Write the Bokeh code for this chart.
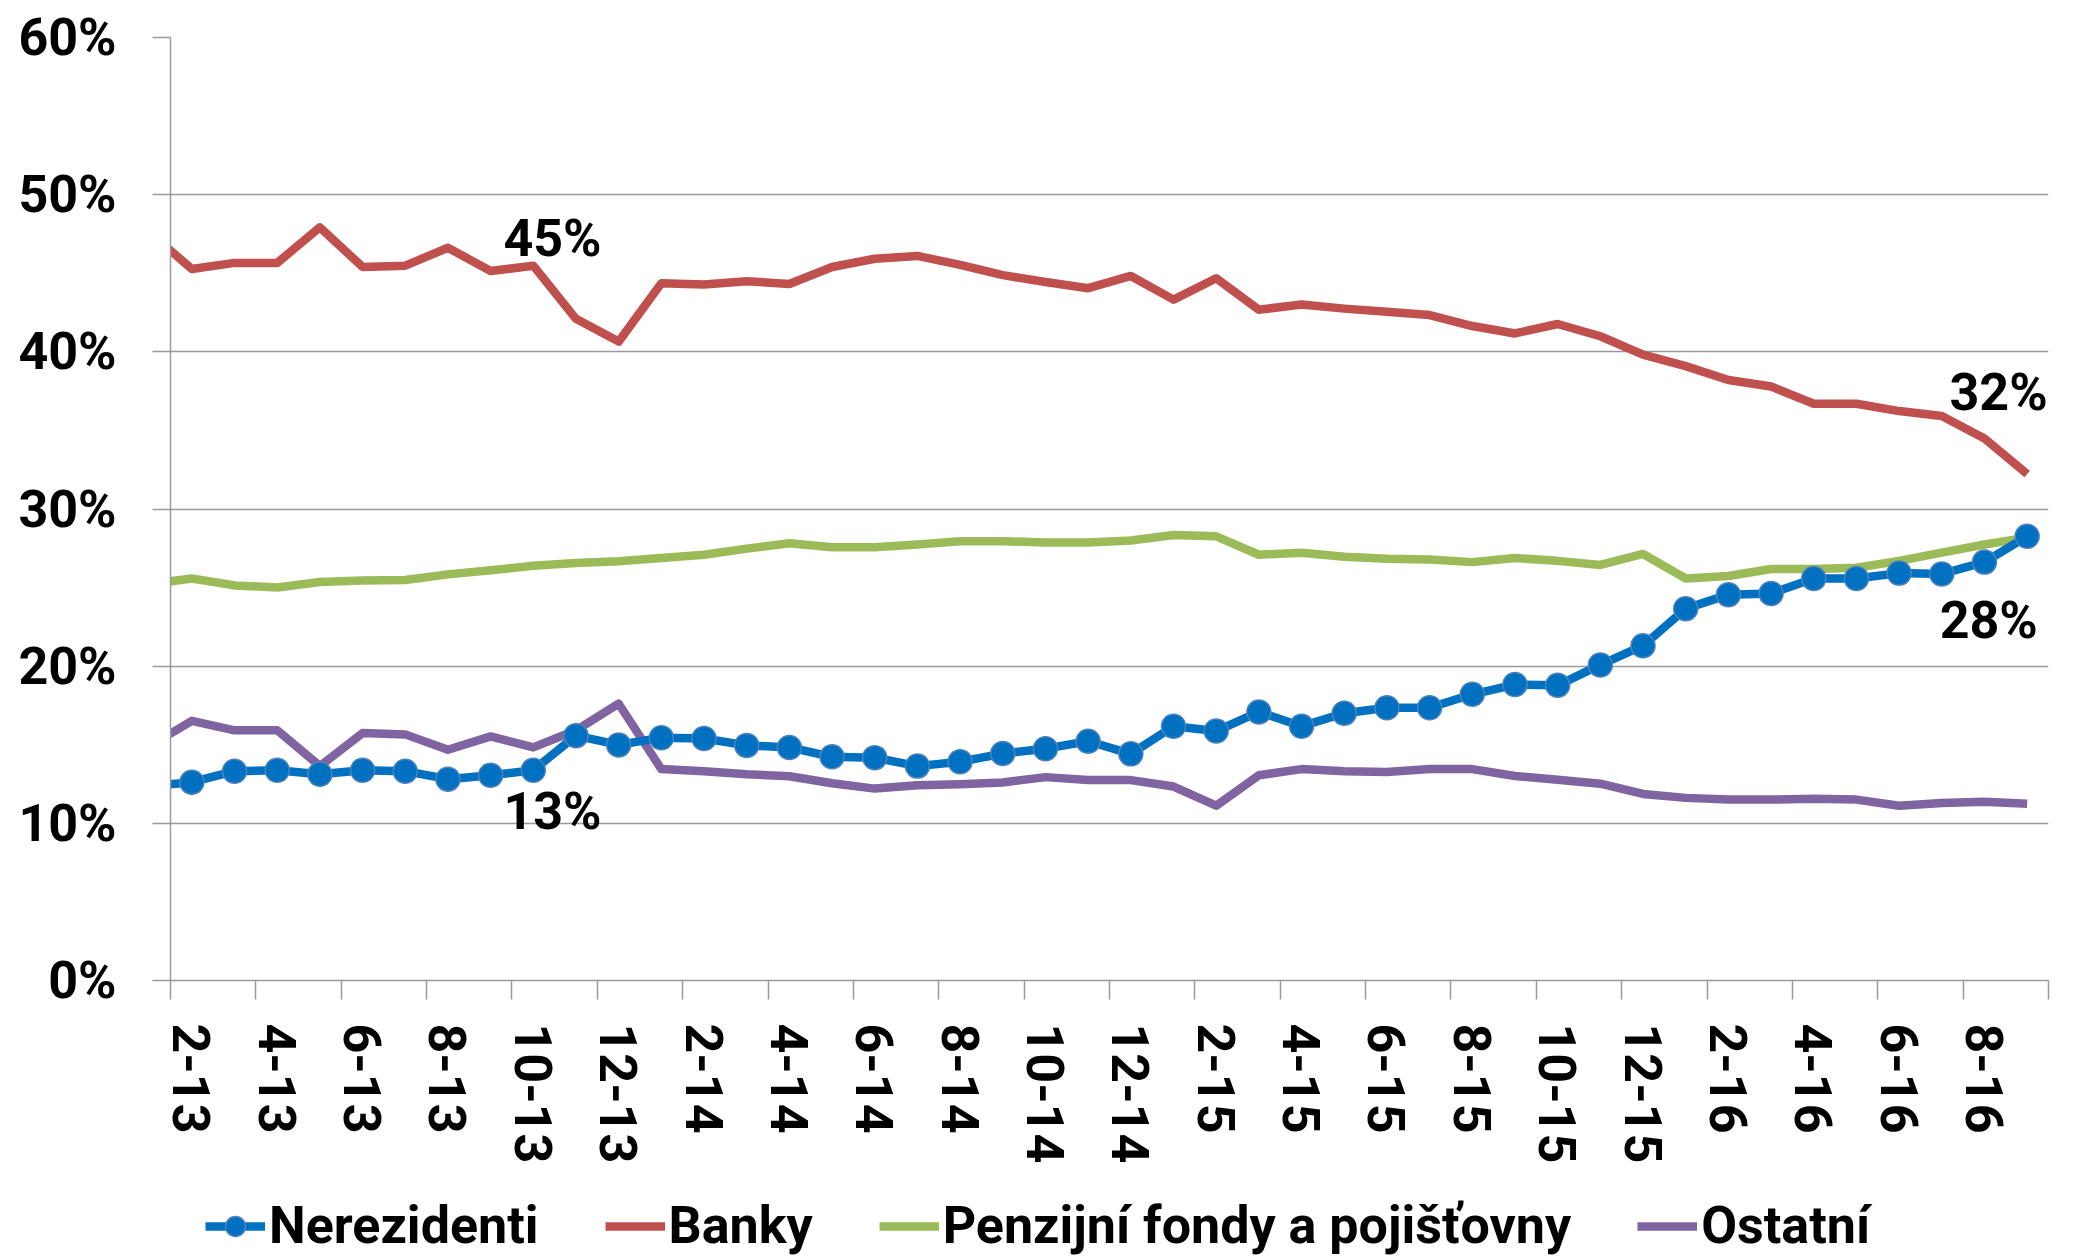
from bokeh.plotting import figure
from bokeh.layouts import column
from bokeh.models import FixedTicker, Legend, LegendItem, Range1d, ColumnDataSource
from bokeh.core.properties import value
from bokeh.embed import file_html
from bokeh.resources import INLINE

months = ["1-13", "2-13", "3-13", "4-13", "5-13", "6-13", "7-13", "8-13", "9-13", "10-13", "11-13", "12-13",
          "1-14", "2-14", "3-14", "4-14", "5-14", "6-14", "7-14", "8-14", "9-14", "10-14", "11-14", "12-14",
          "1-15", "2-15", "3-15", "4-15", "5-15", "6-15", "7-15", "8-15", "9-15", "10-15", "11-15", "12-15",
          "1-16", "2-16", "3-16", "4-16", "5-16", "6-16", "7-16", "8-16", "9-16"]

nerezidenti = [12.36, 12.62, 13.32, 13.38, 13.12, 13.38, 13.32, 12.81, 13.06, 13.38, 15.58, 14.99,
               15.45, 15.40, 14.96, 14.83, 14.23, 14.18, 13.64, 13.92, 14.44, 14.75, 15.22, 14.42,
               16.18, 15.87, 17.09, 16.18, 17.01, 17.35, 17.35, 18.21, 18.83, 18.78, 20.08, 21.30,
               23.66, 24.55, 24.62, 25.58, 25.58, 25.92, 25.87, 26.62, 28.26]

banky = [47.61, 45.27, 45.66, 45.66, 47.92, 45.40, 45.48, 46.62, 45.14, 45.48, 42.10, 40.65,
         44.36, 44.29, 44.49, 44.32, 45.40, 45.92, 46.10, 45.53, 44.88, 44.44, 44.05, 44.83,
         43.32, 44.68, 42.68, 43.01, 42.75, 42.55, 42.34, 41.64, 41.17, 41.77, 40.99, 39.82,
         39.09, 38.21, 37.79, 36.70, 36.70, 36.23, 35.92, 34.49, 32.23]

penzijni = [25.22, 25.58, 25.14, 25.01, 25.35, 25.45, 25.48, 25.84, 26.10, 26.39, 26.57, 26.68,
            26.88, 27.09, 27.48, 27.82, 27.56, 27.56, 27.74, 27.95, 27.95, 27.87, 27.87, 28.00,
            28.34, 28.26, 27.09, 27.22, 26.96, 26.83, 26.78, 26.62, 26.88, 26.70, 26.44, 27.14,
            25.58, 25.74, 26.18, 26.18, 26.26, 26.70, 27.22, 27.74, 28.18]

ostatni = [14.90, 16.52, 15.92, 15.92, 13.64, 15.74, 15.66, 14.68, 15.53, 14.83, 15.92, 17.61,
           13.45, 13.32, 13.12, 13.00, 12.55, 12.21, 12.42, 12.49, 12.60, 12.94, 12.75, 12.75,
           12.34, 11.12, 13.06, 13.45, 13.32, 13.27, 13.45, 13.45, 13.01, 12.78, 12.52, 11.87,
           11.62, 11.51, 11.51, 11.56, 11.51, 11.12, 11.30, 11.38, 11.25]

series_names = ["Nerezidenti", "Banky", "Penzijní fondy a pojišťovny", "Ostatní"]
series_cols = ["ner", "ban", "pen", "ost"]
series_colors = ["#0070C0", "#C0504D", "#9BBB59", "#8064A2"]

y_ticks = [0, 10, 20, 30, 40, 50, 60]
y_tick_labels = ["0%", "10%", "20%", "30%", "40%", "50%", "60%"]

ann_text = ["45%", "13%", "32%", "28%"]
ann_x = [9.45, 9.45, 43.33, 43.1]
ann_y = [47.2, 10.74, 37.4, 22.9]

FONT = "Roboto"
FSIZE = "52px"
GRID = "#9a9a9a"
LW = 8.5
MARKER_LINE = "#4F81BD"

x = list(range(len(months)))
src = ColumnDataSource(dict(x=x, ner=nerezidenti, ban=banky, pen=penzijni, ost=ostatni))


def draw_series(fig):
    """Draw the four series on fig; return legend renderers per series."""
    out = {}
    for col, colr in zip(["ban", "pen", "ost", "ner"], [series_colors[1], series_colors[2],
                                                        series_colors[3], series_colors[0]]):
        out[col] = [fig.line("x", col, source=src, line_color=colr, line_width=LW, line_join="round")]
    out["ner"].append(fig.scatter("x", "ner", source=src, marker="circle", size=24,
                                  fill_color=series_colors[0], line_color=MARKER_LINE, line_width=1.5))
    return out


p = figure(frame_width=1878, frame_height=943, output_backend="svg", toolbar_location=None,
           min_border_left=170, min_border_right=25, min_border_top=37, min_border_bottom=200,
           x_range=Range1d(0.5, len(months) - 0.5), y_range=Range1d(0, 60))
p.outline_line_color = None
p.background_fill_color = "white"
p.border_fill_color = "white"
draw_series(p)

# x axis: labels at even months, tick marks between category pairs
label_idx = [i for i, m in enumerate(months) if int(m.split("-")[0]) % 2 == 0]
boundaries = [i + 0.5 for i in range(0, len(months), 2)]
p.xaxis.ticker = FixedTicker(ticks=label_idx, minor_ticks=boundaries)
p.xaxis.major_label_overrides = {i: months[i] for i in label_idx}
p.xaxis.major_label_orientation = "vertical"
p.xaxis.major_tick_line_color = None
p.xaxis.minor_tick_line_color = GRID
p.xaxis.minor_tick_line_width = 1.5
p.xaxis.minor_tick_out = 19
p.xaxis.minor_tick_in = 0
p.xaxis.major_tick_out = 19
p.xaxis.major_tick_in = 0
p.xaxis.major_label_standoff = 24
p.xaxis.axis_line_color = GRID
p.xaxis.axis_line_width = 1.5

p.yaxis.ticker = FixedTicker(ticks=y_ticks)
p.yaxis.major_label_overrides = {t: l for t, l in zip(y_ticks, y_tick_labels)}
p.yaxis.major_tick_out = 18
p.yaxis.major_tick_in = 0
p.yaxis.major_tick_line_color = GRID
p.yaxis.major_tick_line_width = 1.5
p.yaxis.minor_tick_line_color = None
p.yaxis.axis_line_color = GRID
p.yaxis.axis_line_width = 1.5
p.yaxis.major_label_standoff = 36

for ax in (p.xaxis, p.yaxis):
    ax.major_label_text_font = FONT
    ax.major_label_text_font_style = "bold"
    ax.major_label_text_font_size = FSIZE
    ax.major_label_text_color = "black"

p.xgrid.visible = False
p.ygrid.ticker = FixedTicker(ticks=y_ticks)
p.ygrid.grid_line_color = GRID
p.ygrid.grid_line_width = 1.5

p.text(x=ann_x, y=ann_y, text=ann_text, text_font=value(FONT), text_font_style="bold",
       text_font_size=FSIZE, text_color="black", text_align="center", text_baseline="middle")

# legend strip below the chart (series drawn out of its visible y range)
pl = figure(width=2073, height=76, output_backend="svg", toolbar_location=None,
            min_border=0, x_range=Range1d(0.5, len(months) - 0.5), y_range=Range1d(100, 101))
pl.axis.visible = False
pl.grid.visible = False
pl.outline_line_color = None
pl.background_fill_color = "white"
pl.border_fill_color = "white"
leg_r = draw_series(pl)

items = [LegendItem(label=name, renderers=leg_r[c]) for name, c in zip(series_names, series_cols)]
legend = Legend(items=items, orientation="horizontal", location=(35, 0))
legend.label_text_font = FONT
legend.label_text_font_style = "bold"
legend.label_text_font_size = FSIZE
legend.label_text_color = "black"
legend.glyph_width = 60
legend.glyph_height = 50
legend.label_standoff = 4
legend.spacing = 66
legend.padding = 0
legend.margin = 0
legend.border_line_color = None
legend.background_fill_alpha = 0
pl.add_layout(legend, "center")

layout = column(p, pl, spacing=0)
open("out.html", "w").write(file_html(layout, INLINE))
